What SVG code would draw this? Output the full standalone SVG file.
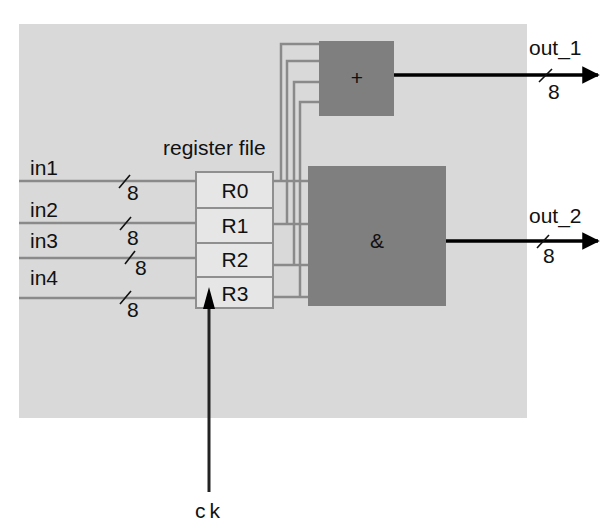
<svg xmlns="http://www.w3.org/2000/svg" width="615" height="532" viewBox="0 0 615 532">
  <style>
    text { font-family: "Liberation Sans", Arial, sans-serif; fill: #111; font-size: 21px; }
    .bus { stroke: #8a8a8a; stroke-width: 2.5; fill: none; }
    .slash { stroke: #111; stroke-width: 1.6; }
    .cell { fill: #e6e6e6; stroke: #8f8f8f; stroke-width: 2; }
    .blk { fill: #7f7f7f; }
    .out { stroke: #000; stroke-width: 3.5; fill: none; }
  </style>
  <defs>
    <marker id="ah" viewBox="0 0 10 10" refX="9" refY="5" markerWidth="5" markerHeight="5" markerUnits="strokeWidth" orient="auto">
      <path d="M0,0 L10,5 L0,10 Z" fill="#000"/>
    </marker>
  </defs>

  <!-- enclosing area -->
  <rect id="area" x="19" y="24" width="508" height="394" fill="#d9d9d9"/>

  <!-- register file -->
  <g id="regfile">
    <text x="163" y="155" font-size="23">register file</text>
    <g id="R0">
      <rect class="cell" x="196" y="172" width="77" height="36"/>
      <text x="235" y="198" text-anchor="middle">R0</text>
    </g>
    <g id="R1">
      <rect class="cell" x="196" y="208" width="77" height="35"/>
      <text x="235" y="233" text-anchor="middle">R1</text>
    </g>
    <g id="R2">
      <rect class="cell" x="196" y="243" width="77" height="34"/>
      <text x="235" y="267" text-anchor="middle">R2</text>
    </g>
    <g id="R3">
      <rect class="cell" x="196" y="277" width="77" height="31"/>
      <text x="235" y="301" text-anchor="middle">R3</text>
    </g>
  </g>

  <!-- adder -->
  <g id="adder">
    <rect class="blk" x="319" y="41" width="75" height="75"/>
    <text x="357" y="85" font-size="20" text-anchor="middle">+</text>
  </g>

  <!-- and -->
  <g id="and">
    <rect class="blk" x="308" y="166" width="138" height="140"/>
    <text x="377" y="248" font-size="22" text-anchor="middle">&amp;</text>
  </g>

  <!-- connectors -->
  <g id="connectors">
    <!-- inputs -->
    <line class="bus" x1="19" y1="181" x2="196" y2="181"/>
    <line class="bus" x1="19" y1="223" x2="196" y2="223"/>
    <line class="bus" x1="19" y1="258" x2="196" y2="258"/>
    <line class="bus" x1="19" y1="298" x2="196" y2="298"/>
    <line class="slash" x1="119" y1="188" x2="130" y2="175"/>
    <line class="slash" x1="120" y1="230" x2="131" y2="217"/>
    <line class="slash" x1="125" y1="264" x2="135" y2="251"/>
    <line class="slash" x1="120" y1="304" x2="131" y2="291"/>

    <!-- register outputs to & -->
    <line class="bus" x1="273" y1="181" x2="308" y2="181"/>
    <line class="bus" x1="273" y1="224" x2="308" y2="224"/>
    <line class="bus" x1="273" y1="265" x2="308" y2="265"/>
    <line class="bus" x1="273" y1="297" x2="308" y2="297"/>

    <!-- register outputs to + -->
    <polyline class="bus" points="281,181 281,44 319,44"/>
    <polyline class="bus" points="287,224 287,61 319,61"/>
    <polyline class="bus" points="294,265 294,82 319,82"/>
    <polyline class="bus" points="300,297 300,102 319,102"/>

    <!-- outputs -->
    <line class="out" x1="394" y1="75" x2="598" y2="75" marker-end="url(#ah)"/>
    <line class="out" x1="446" y1="241" x2="598" y2="241" marker-end="url(#ah)"/>
    <line class="slash" x1="539" y1="82" x2="552" y2="69"/>
    <line class="slash" x1="537" y1="248" x2="549" y2="235"/>

    <!-- clock -->
    <line x1="209" y1="492" x2="209" y2="306" stroke="#222" stroke-width="3"/>
    <path d="M203,309 L209,287 L215,309 Z" fill="#000"/>
  </g>

  <!-- signal labels -->
  <g id="labels">
    <text x="30" y="175">in1</text>
    <text x="30" y="217">in2</text>
    <text x="30" y="248">in3</text>
    <text x="30" y="285">in4</text>
    <text x="127" y="200">8</text>
    <text x="127" y="245">8</text>
    <text x="135" y="275">8</text>
    <text x="127" y="317">8</text>
    <text x="529" y="55" font-size="22">out_1</text>
    <text x="548" y="99">8</text>
    <text x="529" y="223" font-size="22">out_2</text>
    <text x="543" y="263">8</text>
    <text x="195" y="518" letter-spacing="4">ck</text>
  </g>
</svg>
